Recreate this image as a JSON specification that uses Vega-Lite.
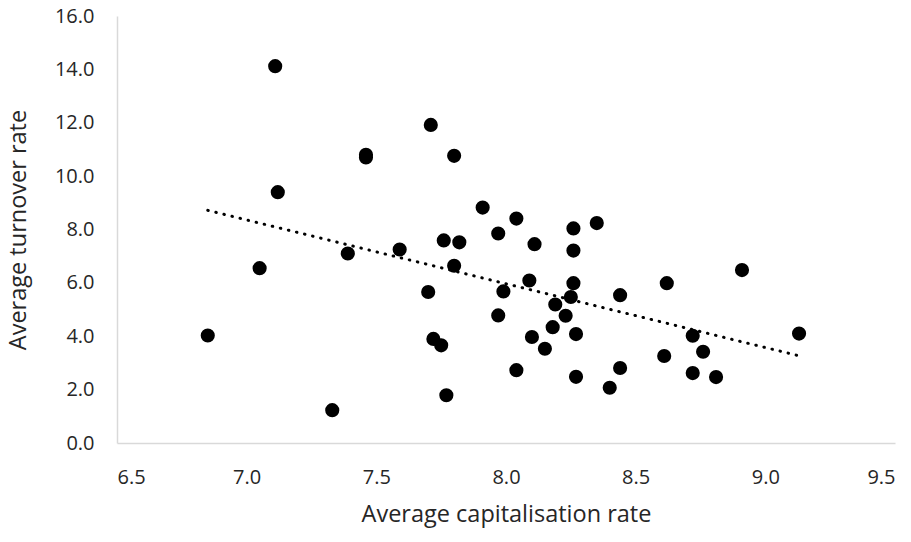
{
  "$schema": "https://vega.github.io/schema/vega-lite/v6.json",
  "width": 778,
  "height": 427,
  "autosize": "none",
  "padding": {"left": 117, "top": 16, "right": 16, "bottom": 99},
  "background": "white",
  "config": {
    "view": {"stroke": null},
    "font": "Open Sans",
    "axis": {
      "grid": false,
      "ticks": false,
      "domainColor": "#d9d9d9",
      "domainWidth": 1.5,
      "labelFont": "Open Sans",
      "labelFontSize": 20,
      "labelColor": "#262626",
      "titleFont": "Open Sans",
      "titleFontSize": 23.5,
      "titleFontWeight": "normal",
      "titleColor": "#262626"
    }
  },
  "data": {
    "values": [
      {"cap": 6.85, "turn": 4.03},
      {"cap": 7.05, "turn": 6.55},
      {"cap": 7.11, "turn": 14.12},
      {"cap": 7.12, "turn": 9.40},
      {"cap": 7.33, "turn": 1.23},
      {"cap": 7.39, "turn": 7.10},
      {"cap": 7.46, "turn": 10.80},
      {"cap": 7.46, "turn": 10.70},
      {"cap": 7.59, "turn": 7.25},
      {"cap": 7.70, "turn": 5.66},
      {"cap": 7.71, "turn": 11.92},
      {"cap": 7.72, "turn": 3.90},
      {"cap": 7.75, "turn": 3.66},
      {"cap": 7.76, "turn": 7.59},
      {"cap": 7.77, "turn": 1.79},
      {"cap": 7.80, "turn": 6.64},
      {"cap": 7.80, "turn": 10.76},
      {"cap": 7.82, "turn": 7.52},
      {"cap": 7.91, "turn": 8.82},
      {"cap": 7.97, "turn": 7.85},
      {"cap": 7.97, "turn": 4.78},
      {"cap": 7.99, "turn": 5.68},
      {"cap": 8.04, "turn": 8.41},
      {"cap": 8.04, "turn": 2.73},
      {"cap": 8.09, "turn": 6.09},
      {"cap": 8.10, "turn": 3.97},
      {"cap": 8.11, "turn": 7.45},
      {"cap": 8.15, "turn": 3.53},
      {"cap": 8.18, "turn": 4.34},
      {"cap": 8.19, "turn": 5.19},
      {"cap": 8.23, "turn": 4.77},
      {"cap": 8.25, "turn": 5.47},
      {"cap": 8.26, "turn": 8.04},
      {"cap": 8.26, "turn": 7.21},
      {"cap": 8.26, "turn": 5.99},
      {"cap": 8.27, "turn": 4.08},
      {"cap": 8.27, "turn": 2.48},
      {"cap": 8.35, "turn": 8.24},
      {"cap": 8.40, "turn": 2.07},
      {"cap": 8.44, "turn": 5.54},
      {"cap": 8.44, "turn": 2.81},
      {"cap": 8.61, "turn": 3.26},
      {"cap": 8.62, "turn": 5.99},
      {"cap": 8.72, "turn": 2.62},
      {"cap": 8.72, "turn": 4.02},
      {"cap": 8.76, "turn": 3.42},
      {"cap": 8.81, "turn": 2.47},
      {"cap": 8.91, "turn": 6.48},
      {"cap": 9.13, "turn": 4.10}
    ]
  },
  "layer": [
    {
      "mark": {"type": "circle", "size": 200, "color": "#000000", "opacity": 1},
      "encoding": {
        "x": {
          "field": "cap",
          "type": "quantitative",
          "title": "Average capitalisation rate",
          "scale": {"domain": [6.5, 9.5], "nice": false, "zero": false},
          "axis": {"values": [6.5, 7.0, 7.5, 8.0, 8.5, 9.0, 9.5], "format": ".1f", "labelPadding": 24, "titlePadding": 15}
        },
        "y": {
          "field": "turn",
          "type": "quantitative",
          "title": "Average turnover rate",
          "scale": {"domain": [0, 16], "nice": false},
          "axis": {"values": [0, 2, 4, 6, 8, 10, 12, 14, 16], "format": ".1f", "labelPadding": 23, "titlePadding": 24}
        }
      }
    },
    {
      "transform": [{"regression": "turn", "on": "cap"}],
      "mark": {"type": "line", "color": "#000000", "strokeWidth": 3, "strokeDash": [0.5, 7.8], "strokeCap": "round"},
      "encoding": {
        "x": {"field": "cap", "type": "quantitative"},
        "y": {"field": "turn", "type": "quantitative"}
      }
    }
  ]
}
